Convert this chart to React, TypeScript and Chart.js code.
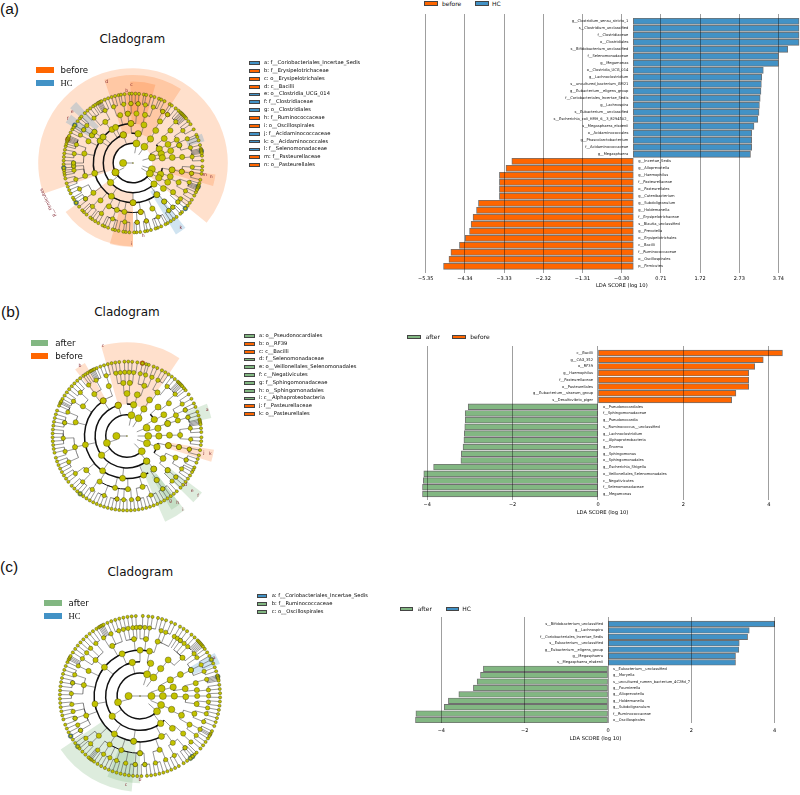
import React, { useEffect, useRef } from "react";
import { Chart, registerables } from "chart.js";

Chart.register(...registerables);

const ORANGE = "#ff6600";
const BLUE = "#4292c6";
const GREEN = "#82b782";
const OLIVE = "#c2c200";
const FONT = "'DejaVu Sans', sans-serif";

/* ---------- LDA bar data ---------- */
const aHcLabels = ["g__Clostridium_sensu_stricto_1", "s__Clostridium_unclassified", "f__Clostridiaceae", "o__Clostridiales", "s__Bifidobacterium_unclassified", "f__Selenomonadaceae", "g__Megamonas", "o__Clostridia_UCG_014", "g__Lachnoclostridium", "s__uncultured_bacterium_GM21", "g__Eubacterium__eligens_group", "f__Coriobacteriales_Incertae_Sedis", "g__Lachnospira", "s__Eubacterium__unclassified", "s__Escherichia_coli_HMH_6__3_8294502_", "s__Megasphaera_elsdenii", "o__Acidaminococcales", "g__Phascolarctobacterium", "f__Acidaminococcaceae", "g__Megasphaera"];
const aHcValues = [4.27, 4.27, 4.27, 4.27, 3.98, 3.74, 3.74, 3.35, 3.31, 3.3, 3.29, 3.27, 3.25, 3.24, 3.21, 3.11, 3.05, 3.05, 3.05, 3.02];
const aBeforeLabels = ["g__Incertae_Sedis", "g__Alloprevotella", "g__Haemophilus", "f__Pasteurellaceae", "o__Pasteurellales", "g__Catenibacterium", "g__Subdoligranulum", "g__Holdemanella", "f__Erysipelotrichaceae", "s__Blautia_unclassified", "g__Prevotella", "o__Erysipelotrichales", "c__Bacilli", "f__Ruminococcaceae", "o__Oscillospirales", "p__Firmicutes"];
const aBeforeValues = [-3.13, -3.28, -3.45, -3.45, -3.45, -3.45, -3.99, -4.04, -4.13, -4.18, -4.22, -4.33, -4.48, -4.7, -4.75, -4.89];
const aTicks = [-5.35, -4.34, -3.33, -2.32, -1.31, -0.3, 0.71, 1.72, 2.73, 3.74];

const bBeforeLabels = ["c__Bacilli", "g__CAG_352", "o__RF39", "g__Haemophilus", "f__Pasteurellaceae", "o__Pasteurellales", "g__Eubacterium__siraeum_group", "s__Desulfovibrio_piger"];
const bBeforeValues = [4.32, 3.87, 3.67, 3.53, 3.53, 3.53, 3.23, 3.13];
const bAfterLabels = ["o__Pseudonocardiales", "f__Sphingomonadaceae", "g__Pseudonocardia", "s__Ruminococcus__unclassified", "g__Lachnoclostridium", "c__Alphaproteobacteria", "g__Enorma", "g__Sphingomonas", "o__Sphingomonadales", "g__Escherichia_Shigella", "o__Veillonellales_Selenomonadales", "c__Negativicutes", "f__Selenomonadaceae", "g__Megamonas"];
const bAfterValues = [-3.04, -3.11, -3.11, -3.12, -3.13, -3.14, -3.16, -3.2, -3.21, -3.85, -4.08, -4.09, -4.11, -4.11];
const bTicks = [-4, -2, 0, 2, 4];

const cHcLabels = ["s__Bifidobacterium_unclassified", "g__Lachnospira", "f__Coriobacteriales_Incertae_Sedis", "s__Eubacterium__unclassified", "g__Eubacterium__eligens_group", "g__Megasphaera", "s__Megasphaera_elsdenii"];
const cHcValues = [4.0, 3.39, 3.35, 3.15, 3.14, 3.06, 3.06];
const cAfterLabels = ["s__Eubacterium__unclassified", "g__Moryella", "s__uncultured_rumen_bacterium_4C28d_7", "g__Fournierella", "g__Alloprevotella", "g__Holdemanella", "g__Subdoligranulum", "f__Ruminococcaceae", "o__Oscillospirales"];
const cAfterValues = [-2.99, -3.06, -3.14, -3.23, -3.58, -3.83, -3.93, -4.61, -4.62];
const cTicks = [-4, -2, 0, 2, 4];

/* ---------- Cladogram data: node angles in degrees clockwise from north, ring by ring ---------- */
const aRings = [
  [270],
  [10, 35, 74, 108, 122, 242],
  [10, 36, 62, 72, 80, 112, 120, 135, 229, 341],
  [16, 35, 52, 62, 72, 82, 100, 110, 119, 130, 143, 180, 213, 255, 304, 311, 328, 334, 357],
  [4, 14, 33, 49, 62, 69, 83, 100, 113, 126, 141, 157, 171, 190, 199, 209, 221, 233, 255, 281, 296, 304, 309, 326, 345, 354],
  [358, 5, 12, 20, 30, 35.5, 46, 57, 66, 75, 84, 94, 100, 109, 118, 127, 131, 138, 143, 155, 167, 176, 188, 200, 212, 223, 233, 244, 254, 263, 267, 270, 279, 288, 298, 304, 309, 319, 332, 341, 351],
  [2, 5, 9, 11, 15, 18, 22, 24, 27, 32, 34, 38, 41, 43, 44, 45, 46, 47, 48, 49, 50, 53, 56, 61, 66, 68, 71, 75, 78, 79, 80, 81, 82, 84, 88, 93, 96, 99, 104, 107, 109, 110, 111, 112, 113, 115, 118, 122, 125, 128, 131, 135, 137, 141, 144, 147, 150, 152, 156, 159, 161, 165, 168, 170, 174, 177, 179, 183, 186, 188, 192, 195, 197, 201, 204, 206, 210, 213, 216, 218, 222, 225, 227, 231, 235, 238, 240, 244, 247, 250, 253, 257, 260, 262, 264, 266, 269, 272, 275, 278, 281, 284, 286, 288, 289, 290, 291, 292, 293, 296, 299, 301, 303, 307, 310, 312, 316, 319, 322, 325, 327, 329, 330, 331, 332, 333, 336, 339, 342, 345, 348, 350, 353, 357, 359],
];
const aBeforeNodes = [[2, 242], [3, 341], [4, 357], [5, 354], [6, 358], [6, 5], [6, 30], [6, 35.5], [4, 180], [5, 171], [6, 167], [6, 176], [4, 100], [5, 100], [6, 100], [7, 290]];
const aHcNodes = [[7, 303], [6, 304], [5, 304], [5, 309], [4, 304], [4, 311], [6, 270], [6, 267], [7, 266], [7, 235], [6, 233], [4, 143], [5, 141], [6, 143], [6, 138], [6, 131], [7, 131], [5, 69], [7, 80], [7, 110]];
const aArcs = [[2, 122, 370], [3, 135, 341], [4, 143, 357], [5, 171, 209]];
const aWedges = [
  ["before", -109, 129, 20, 99], ["before", 180, 234, 30, 87],
  ["before", -19, 33, 31, 92], ["before", -2, 16, 41, 85], ["before", -6, 6, 52, 74],
  ["before", 98, 106, 41, 87], ["before", 180, 196, 50, 88],
  ["HC", 141, 149, 35, 87], ["HC", 311, 317, 52, 87], ["HC", 301, 308, 52, 82], ["HC", 67, 73, 60, 78],
];
const aTags = [["d", 342, 89], ["c", 359, 82], ["b", 355, 76], ["m", 99.6, 76], ["n", 100, 83], ["h", 172, 77], ["i", 181, 84], ["k", 143.5, 84], ["e", 310, 83], ["f", 304, 82], ["p__Firmicutes", 245, 98, -116]];

const bRings = [
  [270],
  [12, 33, 67, 90, 110, 136, 251],
  [12, 32, 59, 76, 90, 110, 142, 233, 344],
  [0, 14, 32, 47, 60, 73, 89, 103, 122, 141, 157, 186, 215, 258, 326],
  [3, 19, 35, 52, 67, 73, 89, 102, 114, 130, 146, 163, 179, 193, 211, 230, 258, 285, 304, 322, 340, 356],
  [350, 354, 358, 2, 6, 12, 17, 23, 29, 39, 49, 60, 66, 73, 83, 93, 102, 112, 121, 130, 135, 146, 158, 170, 176, 183, 189, 201, 213, 224, 234, 246, 256, 268, 282, 292, 303, 313, 323, 331, 341],
  [1, 4, 8, 12, 15, 17, 21, 24, 28, 31, 34, 37, 40, 43, 44, 45, 46, 47, 48, 50, 52, 56, 60, 64, 67, 71, 74, 77, 78, 79, 80, 81, 84, 87, 91, 94, 97, 101, 105, 108, 111, 115, 117, 119, 122, 125, 128, 131, 134, 138, 141, 144, 147, 150, 153, 156, 159, 162, 165, 168, 171, 174, 177, 180, 183, 186, 189, 192, 195, 198, 201, 204, 207, 210, 213, 216, 219, 222, 225, 228, 232, 235, 238, 241, 244, 247, 250, 253, 257, 260, 263, 266, 269, 272, 275, 278, 281, 284, 287, 290, 294, 296, 297, 298, 300, 303, 306, 309, 312, 315, 318, 321, 324, 326, 328, 330, 331, 332, 333, 334, 336, 339, 342, 345, 348, 351, 354, 358],
];
const bBeforeNodes = [[3, 344], [4, 326], [7, 12], [4, 103], [5, 102], [6, 102], [6, 189], [6, 170]];
const bAfterNodes = [[3, 142], [4, 141], [5, 146], [6, 146], [5, 130], [6, 130], [6, 112], [4, 73], [6, 66], [6, 73], [6, 282], [7, 219]];
const bArcs = [[2, 136, 372], [3, 142, 344], [4, 150, 326], [5, 179, 211]];
const bWedges = [
  ["before", -16, 34, 33, 98], ["before", 322, 330, 44, 88], ["before", 99, 107, 44, 92],
  ["after", 142, 156, 33, 98], ["after", 142, 149, 50, 90], ["after", 127, 135, 55, 98], ["after", 68, 78, 66, 90],
];
const bTags = [["a", 72, 88], ["b", 326, 88], ["c", 345, 97], ["k", 102, 89], ["j", 102, 82], ["d", 130, 80], ["e", 130, 89], ["f", 130, 97], ["g", 146, 81], ["h", 143, 88], ["i", 143, 97]];

const cRings = [
  [270, 90],
  [18, 36, 71, 90, 113, 132, 254],
  [18, 37, 62, 75, 90, 113, 143, 234, 347],
  [0, 12, 38, 62, 81, 91, 115, 135, 152, 188, 214, 260, 309, 337],
  [6, 18, 48, 63, 77, 84, 90, 98, 108, 120, 131, 145, 160, 180, 199, 212, 226, 250, 281, 296, 309, 331, 354],
  [342, 346, 350, 354, 357, 0, 4, 8, 18, 22, 30, 33, 36, 40, 44, 52, 56, 63, 69, 76, 85, 90, 95, 100, 105, 112, 119, 125, 132, 139, 150, 158, 167, 176, 184, 192, 200, 206, 212, 218, 226, 232, 240, 245, 251, 257, 263, 272, 281, 288, 296, 303, 309, 314, 320, 328, 335],
  [2, 6, 9, 13, 16, 19, 23, 26, 30, 33, 36, 40, 43, 46, 47, 48, 49, 50, 51, 52, 54, 57, 60, 63, 66, 69, 72, 75, 76, 77, 78, 79, 82, 85, 88, 91, 94, 97, 100, 103, 106, 109, 112, 116, 118, 119, 120, 122, 125, 128, 131, 135, 137, 139, 141, 144, 147, 151, 154, 157, 160, 163, 166, 169, 172, 175, 179, 182, 185, 188, 191, 194, 197, 200, 203, 206, 209, 212, 215, 217, 218, 219, 220, 223, 226, 229, 231, 234, 237, 240, 243, 246, 249, 253, 256, 259, 262, 265, 268, 271, 274, 277, 280, 283, 286, 289, 292, 295, 297, 298, 299, 300, 303, 306, 309, 312, 315, 318, 321, 324, 327, 329, 330, 331, 332, 333, 336, 339, 342, 345, 348, 351, 354, 357],
];
const cHcNodes = [[5, 63], [7, 76], [6, 281], [6, 240], [7, 240], [6, 139], [7, 139]];
const cAfterNodes = [[6, 0], [6, 36], [7, 63], [6, 251], [7, 231], [4, 188], [5, 180], [6, 176], [6, 184], [7, 141]];
const cArcs = [[2, 132, 376], [3, 143, 347], [4, 152, 372], [5, 180, 209]];
const cWedges = [["after", 185, 236, 48, 100], ["after", 180, 202, 60, 91], ["HC", 60, 68, 60, 90]];
const cTags = [["a", 63, 87], ["b", 180, 88], ["c", 189, 94]];

const aSideLegend = [["a: f__Coriobacteriales_Incertae_Sedis", BLUE], ["b: f__Erysipelotrichaceae", ORANGE], ["c: o__Erysipelotrichales", ORANGE], ["d: c__Bacilli", ORANGE], ["e: o__Clostridia_UCG_014", BLUE], ["f: f__Clostridiaceae", BLUE], ["g: o__Clostridiales", BLUE], ["h: f__Ruminococcaceae", ORANGE], ["i: o__Oscillospirales", ORANGE], ["j: f__Acidaminococcaceae", BLUE], ["k: o__Acidaminococcales", BLUE], ["l: f__Selenomonadaceae", BLUE], ["m: f__Pasteurellaceae", ORANGE], ["n: o__Pasteurellales", ORANGE]];
const bSideLegend = [["a: o__Pseudonocardiales", GREEN], ["b: o__RF39", ORANGE], ["c: c__Bacilli", ORANGE], ["d: f__Selenomonadaceae", GREEN], ["e: o__Veillonellales_Selenomonadales", GREEN], ["f: c__Negativicutes", GREEN], ["g: f__Sphingomonadaceae", GREEN], ["h: o__Sphingomonadales", GREEN], ["i: c__Alphaproteobacteria", GREEN], ["j: f__Pasteurellaceae", ORANGE], ["k: o__Pasteurellales", ORANGE]];
const cSideLegend = [["a: f__Coriobacteriales_Incertae_Sedis", BLUE], ["b: f__Ruminococcaceae", GREEN], ["c: o__Oscillospirales", GREEN]];

const WEDGE_FILL: any = { before: "rgba(255,102,0,0.2)", HC: "rgba(66,146,198,0.25)", after: "rgba(130,183,130,0.27)" };
const NODE_R = [3.6, 3.5, 3.2, 3.0, 2.6, 2.2, 1.6];
const ARC_W = [1.2, 1.5, 1.5, 1.5, 1.0, 0.7, 0.5];

function polar(deg: number, r: number) {
  const t = (deg * Math.PI) / 180;
  return { x: r * Math.sin(t), y: r * Math.cos(t) };
}

/* ---------- Bar chart ---------- */
function LdaChart({ pos, neg, layout, ticks, names }: any) {
  const ref = useRef<HTMLCanvasElement>(null);
  useEffect(() => {
    const L = layout;
    const labels = [...pos.labels, ...neg.labels];
    const n = labels.length;
    const H = L.titleY + 3 - L.bottom;
    const rowPlugin = {
      id: "rowText",
      afterDatasetsDraw(chart: any) {
        const { ctx, scales } = chart;
        const x0 = scales.x.getPixelForValue(0);
        ctx.save();
        ctx.font = `${L.labelSize}px ${FONT}`;
        ctx.fillStyle = "#111";
        ctx.textBaseline = "middle";
        labels.forEach((t: string, i: number) => {
          const y = scales.y.getPixelForValue(i);
          const isPos = i < pos.labels.length;
          ctx.textAlign = isPos ? "right" : "left";
          ctx.fillText(t, x0 + (isPos ? -5 : 5), y);
        });
        ctx.restore();
      },
    };
    const chart = new Chart(ref.current as any, {
      type: "bar",
      data: {
        labels,
        datasets: [
          { label: pos.name, backgroundColor: pos.color, data: pos.values.map((v: number, i: number) => ({ x: v, y: i })) },
          { label: neg.name, backgroundColor: neg.color, data: neg.values.map((v: number, i: number) => ({ x: v, y: i + pos.labels.length })) },
        ].map((d: any) => ({ ...d, grouped: false, barThickness: L.bar, borderColor: "rgba(50,50,50,0.7)", borderWidth: 0.9, borderSkipped: false })),
      } as any,
      options: {
        indexAxis: "y",
        animation: false,
        responsive: false,
        maintainAspectRatio: false,
        layout: { padding: { left: 5, right: 5, top: 4, bottom: 0 } },
        plugins: { legend: { display: false }, tooltip: { enabled: false } },
        scales: {
          y: {
            type: "linear",
            display: false,
            reverse: true,
            offset: false,
            bounds: "data",
            min: -(L.first - L.top) / L.step,
            max: n - 1 + (L.bottom - (L.first + (n - 1) * L.step)) / L.step,
          },
          x: {
            type: "linear",
            min: (L.left - L.zero) / L.unit,
            max: (L.right - L.zero) / L.unit,
            afterFit: (s: any) => { s.height = H; },
            afterBuildTicks: (s: any) => { s.ticks = ticks.map((v: number) => ({ value: v })); },
            border: { display: false },
            grid: { color: "rgba(0,0,0,0.42)", lineWidth: 0.9, drawTicks: false, z: 1 },
            ticks: {
              autoSkip: false, maxRotation: 0, padding: L.tickY - 3 - L.bottom, color: "#000",
              font: { family: FONT, size: 5 },
              callback: (v: any) => {
                const s = names === 2 ? Math.abs(v).toFixed(2) : String(Math.abs(v));
                return (v < 0 ? "\u2212" : "") + s;
              },
            },
            title: { display: true, text: "LDA SCORE (log 10)", color: "#000", font: { family: FONT, size: 5.2 }, padding: 0 },
          },
        },
      } as any,
      plugins: [rowPlugin] as any,
    });
    return () => chart.destroy();
  }, []);
  const L = layout;
  const H = L.titleY + 3 - L.bottom;
  return (
    <canvas
      ref={ref}
      width={L.right - L.left + 10}
      height={L.bottom + H - (L.top - 4)}
      style={{ position: "absolute", left: L.left - 5, top: L.top - 4, width: L.right - L.left + 10, height: L.bottom + H - (L.top - 4) }}
    />
  );
}

/* ---------- Cladogram as a bubble chart ---------- */
function Cladogram({ cx, cy, step, rings, groups, arcs, wedges, tags }: any) {
  const ref = useRef<HTMLCanvasElement>(null);
  const half = 106;
  useEffect(() => {
    const toPoint = (lvl: number, deg: number, big = false) => ({
      ...polar(deg, lvl * step),
      r: big && lvl === 7 ? 2.4 : NODE_R[lvl - 1],
    });
    const treePlugin = {
      id: "tree",
      beforeDatasetsDraw(chart: any) {
        const { ctx, scales } = chart;
        const ox = scales.x.getPixelForValue(0);
        const oy = scales.y.getPixelForValue(0);
        const k = scales.x.getPixelForValue(1) - ox;
        const rad = (d: number) => ((d - 90) * Math.PI) / 180;
        ctx.save();
        wedges.forEach(([cls, a0, a1, r0, r1]: any) => {
          ctx.beginPath();
          ctx.arc(ox, oy, r1 * k, rad(a0), rad(a1));
          ctx.arc(ox, oy, r0 * k, rad(a1), rad(a0), true);
          ctx.closePath();
          ctx.fillStyle = WEDGE_FILL[cls];
          ctx.fill();
        });
        // radial stems
        ctx.strokeStyle = "#555";
        ctx.lineWidth = 0.6;
        rings.forEach((ring: number[], i: number) => {
          ring.forEach((deg) => {
            const p0 = polar(deg, (i + 1) * step);
            const p1 = polar(deg, i * step);
            ctx.beginPath();
            ctx.moveTo(scales.x.getPixelForValue(p0.x), scales.y.getPixelForValue(p0.y));
            ctx.lineTo(scales.x.getPixelForValue(p1.x), scales.y.getPixelForValue(p1.y));
            ctx.stroke();
          });
        });
        // connecting arcs: each child joins the closest node on the ring inside it
        ctx.strokeStyle = "#111";
        rings.forEach((ring: number[], i: number) => {
          if (i === 0) return;
          ring.forEach((deg) => {
            let best = rings[i - 1][0];
            let bd = 1e9;
            rings[i - 1].forEach((pd: number) => {
              const d = ((deg - pd + 540) % 360) - 180;
              if (Math.abs(d) < Math.abs(bd)) { bd = d; best = pd; }
            });
            if (Math.abs(bd) > 14) return;
            ctx.lineWidth = i >= 4 ? 0.55 : ARC_W[i - 1];
            ctx.beginPath();
            ctx.arc(ox, oy, i * step * k, rad(best), rad(best + bd), bd < 0);
            ctx.stroke();
          });
        });
        arcs.forEach(([lvl, a0, a1]: any) => {
          ctx.lineWidth = ARC_W[lvl - 1];
          ctx.beginPath();
          ctx.arc(ox, oy, lvl * step * k, rad(a0), rad(a1));
          ctx.stroke();
        });
        ctx.restore();
      },
      afterDatasetsDraw(chart: any) {
        const { ctx, scales } = chart;
        ctx.save();
        ctx.font = `4.6px ${FONT}`;
        ctx.textAlign = "center";
        ctx.textBaseline = "middle";
        ctx.fillStyle = "#7d1f2a";
        tags.forEach(([t, deg, r, rot]: any) => {
          const p = polar(deg, r);
          ctx.save();
          ctx.translate(scales.x.getPixelForValue(p.x), scales.y.getPixelForValue(p.y));
          if (rot) ctx.rotate((rot * Math.PI) / 180);
          ctx.fillText(t, 0, 0);
          ctx.restore();
        });
        ctx.restore();
      },
    };
    const base: any[] = [{ x: 0, y: 0, r: 0.5 }];
    rings.forEach((ring: number[], i: number) => ring.forEach((d) => base.push(toPoint(i + 1, d))));
    const datasets: any[] = [
      { label: "taxa", data: base, backgroundColor: OLIVE },
      ...groups.map((g: any) => ({
        label: g.name,
        data: g.nodes.map(([l, d]: number[]) => toPoint(l, d, true)),
        backgroundColor: g.color,
      })),
    ].map((d) => ({ ...d, borderColor: "rgba(40,40,0,0.7)", borderWidth: 0.5 }));
    const chart = new Chart(ref.current as any, {
      type: "bubble",
      data: { datasets },
      options: {
        animation: false,
        responsive: false,
        maintainAspectRatio: false,
        layout: { padding: 0 },
        plugins: { legend: { display: false }, tooltip: { enabled: false } },
        scales: {
          x: { type: "linear", display: false, min: -half, max: half },
          y: { type: "linear", display: false, min: -half, max: half },
        },
      } as any,
      plugins: [treePlugin] as any,
    });
    return () => chart.destroy();
  }, []);
  return (
    <canvas ref={ref} width={half * 2} height={half * 2}
      style={{ position: "absolute", left: Math.round(cx - half), top: Math.round(cy - half), width: half * 2, height: half * 2 }} />
  );
}

/* ---------- plain text helpers ---------- */
function Txt({ x, y, size, children, family = FONT, center = false, color = "#111", weight = 400 }: any) {
  return (
    <div style={{
      position: "absolute", left: x, top: y, fontSize: size, fontFamily: family, color, fontWeight: weight,
      lineHeight: 1, whiteSpace: "nowrap", transform: center ? "translate(-50%,-50%)" : "translateY(-50%)",
    }}>{children}</div>
  );
}
function Swatch({ x, y, w, h, color, border }: any) {
  return <div style={{ position: "absolute", left: x, top: y, width: w, height: h, background: color, boxSizing: "border-box", border: border ? "0.8px solid #444" : "none" }} />;
}
function SideLegend({ x, y0, step, items }: any) {
  return items.map(([t, c]: any, i: number) => (
    <React.Fragment key={t}>
      <Swatch x={x} y={y0 + i * step - 1.8} w={10.7} h={3.8} color={c} border />
      <Txt x={x + 15} y={y0 + i * step} size={5.2} color="#000">{t}</Txt>
    </React.Fragment>
  ));
}
function MainLegend({ x, y0, step, items }: any) {
  return items.map(([t, c, fam]: any, i: number) => (
    <React.Fragment key={t}>
      <Swatch x={x} y={y0 + i * step - 3} w={17.5} h={6} color={c} />
      <Txt x={x + 24.5} y={y0 + i * step} size={8.6} family={fam || FONT}>{t}</Txt>
    </React.Fragment>
  ));
}
function BarLegend({ y, items }: any) {
  return items.map(([t, c, rx, tx]: any) => (
    <React.Fragment key={t}>
      <Swatch x={rx} y={y - 2.2} w={13.3} h={4.6} color={c} border />
      <Txt x={tx} y={y} size={6}>{t}</Txt>
    </React.Fragment>
  ));
}

export default function App() {
  return (
    <div style={{ position: "absolute", left: 0, top: 0, width: 800, height: 795, overflow: "hidden", background: "#fff", filter: "blur(0.3px)" }}>
      <Txt x={0} y={9} size={15.5} family="'Liberation Sans', sans-serif">(a)</Txt>
      <Txt x={1} y={312} size={15.5} family="'Liberation Sans', sans-serif">(b)</Txt>
      <Txt x={0} y={567} size={15.5} family="'Liberation Sans', sans-serif">(c)</Txt>

      <Txt x={132.3} y={39.3} size={12} center>Cladogram</Txt>
      <Txt x={127} y={311.7} size={12} center>Cladogram</Txt>
      <Txt x={140.3} y={572} size={12} center>Cladogram</Txt>

      <Cladogram cx={133} cy={163} step={10.35} rings={aRings} arcs={aArcs} wedges={aWedges} tags={aTags}
        groups={[{ name: "before", nodes: aBeforeNodes, color: ORANGE }, { name: "HC", nodes: aHcNodes, color: BLUE }]} />
      <Cladogram cx={127} cy={436} step={11.1} rings={bRings} arcs={bArcs} wedges={bWedges} tags={bTags}
        groups={[{ name: "after", nodes: bAfterNodes, color: GREEN }, { name: "before", nodes: bBeforeNodes, color: ORANGE }]} />
      <Cladogram cx={140} cy={696} step={11.95} rings={cRings} arcs={cArcs} wedges={cWedges} tags={cTags}
        groups={[{ name: "after", nodes: cAfterNodes, color: GREEN }, { name: "HC", nodes: cHcNodes, color: BLUE }]} />

      <MainLegend x={36} y0={70.3} step={12.8} items={[["before", ORANGE], ["HC", BLUE, "'Liberation Serif', serif"]]} />
      <MainLegend x={30.7} y0={343} step={12.8} items={[["after", GREEN], ["before", ORANGE]]} />
      <MainLegend x={44} y0={603.3} step={13} items={[["after", GREEN], ["HC", BLUE, "'Liberation Serif', serif"]]} />

      <SideLegend x={249} y0={63} step={7.85} items={aSideLegend} />
      <SideLegend x={244} y0={336} step={7.8} items={bSideLegend} />
      <SideLegend x={256.7} y0={596} step={8} items={cSideLegend} />

      <BarLegend y={3.5} items={[["before", ORANGE, 424.3, 442], ["HC", BLUE, 475.3, 492]]} />
      <BarLegend y={337} items={[["after", GREEN, 407.3, 425.7], ["before", ORANGE, 452.3, 470.3]]} />
      <BarLegend y={609} items={[["after", GREEN, 400, 417.7], ["HC", BLUE, 445.7, 462.3]]} />

      <LdaChart names={2} ticks={aTicks}
        pos={{ name: "HC", labels: aHcLabels, values: aHcValues, color: BLUE }}
        neg={{ name: "before", labels: aBeforeLabels, values: aBeforeValues, color: ORANGE }}
        layout={{ left: 420, right: 820, top: 14, bottom: 273, zero: 631.6, unit: 39.16, first: 21.3, step: 7, bar: 6, tickY: 279, titleY: 286, labelSize: 3.65 }} />
      <LdaChart names={0} ticks={bTicks}
        pos={{ name: "before", labels: bBeforeLabels, values: bBeforeValues, color: ORANGE }}
        neg={{ name: "after", labels: bAfterLabels, values: bAfterValues, color: GREEN }}
        layout={{ left: 420, right: 785, top: 346, bottom: 500, zero: 598, unit: 42.7, first: 353, step: 6.714, bar: 5.8, tickY: 505, titleY: 513, labelSize: 3.65 }} />
      <LdaChart names={0} ticks={cTicks}
        pos={{ name: "HC", labels: cHcLabels, values: cHcValues, color: BLUE }}
        neg={{ name: "after", labels: cAfterLabels, values: cAfterValues, color: GREEN }}
        layout={{ left: 412, right: 779, top: 617, bottom: 723, zero: 608, unit: 41.67, first: 624, step: 6.4, bar: 5.6, tickY: 731, titleY: 739, labelSize: 3.65 }} />
    </div>
  );
}
